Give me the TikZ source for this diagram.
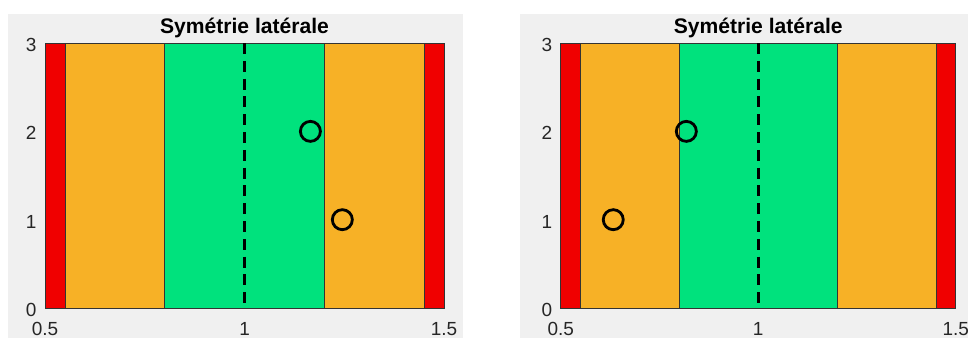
\documentclass[tikz,border=0pt]{standalone}
\usepackage{fontspec}
\setmainfont{Liberation Sans}
\usepackage{xcolor}
\usetikzlibrary{positioning}

\definecolor{figgray}{RGB}{240,240,240}
\definecolor{bandred}{RGB}{240,0,0}
\definecolor{bandorange}{RGB}{247,177,38}
\definecolor{bandgreen}{RGB}{0,226,125}
\definecolor{ticktext}{RGB}{38,38,38}

\begin{document}
\begin{tikzpicture}[
    x=0.025cm, y=-0.025cm,
    band/.style={draw=black!80, line width=0.6pt},
    midline/.style={draw=black, line width=2.1pt, dash pattern=on 0.275cm off 0.17cm},
    marker/.style={draw=black, line width=2pt, circle, minimum size=0.5cm, inner sep=0pt},
    title/.style={font=\fontsize{15}{18}\selectfont\bfseries},
    ticklabel/.style={font=\fontsize{13.5}{16}\selectfont, text=ticktext}
]
    % canvas and the two grey figure areas
    \useasboundingbox (0,0) rectangle (968,338);
    \fill[white] (0,0) rectangle (968,338);
    \fill[figgray] (8,14) rectangle (463,338);
    \fill[figgray] (520,14) rectangle (968,338);

    % one panel per pass: name / left edge / x scale / circle at 2 / circle at 1
    \foreach \p/\ox/\sx/\ca/\cb in {L/45/9.975/1.165/1.245, R/560.7/9.875/0.818/0.633}{
      \begin{scope}[shift={(\ox,308)}, x=\sx cm, y=2.2075cm, shift={(-0.5,0)}]
        % lanes
        \foreach \a/\b/\c in {0.5/0.55/bandred, 0.55/0.8/bandorange, 0.8/1.2/bandgreen,
                              1.2/1.45/bandorange, 1.45/1.5/bandred}
          \filldraw[band, fill=\c] (\a,0) rectangle (\b,3);

        % axis of symmetry
        \coordinate (mid\p a) at (1,3);
        \coordinate (mid\p b) at (1,0);
        \draw[midline] (mid\p a) -- (mid\p b);

        % positions
        \node[marker] (pos\p a) at (\ca,2) {};
        \node[marker] (pos\p b) at (\cb,1) {};

        % title and tick labels
        \node[title, anchor=base, yshift=7pt] (title\p) at (1,3) {Symétrie latérale};
        \foreach \v/\n in {0.5/a, 1/b, 1.5/c}
          \node[ticklabel, anchor=base, yshift=-19.5pt] (x\p\n) at (\v,0) {\v};
        \foreach \v in {0,...,3}
          \node[ticklabel, anchor=east, xshift=-2.5pt, yshift=-1.4pt] (y\p\v) at (0.5,\v) {\v};
      \end{scope}
    }
\end{tikzpicture}
\end{document}
